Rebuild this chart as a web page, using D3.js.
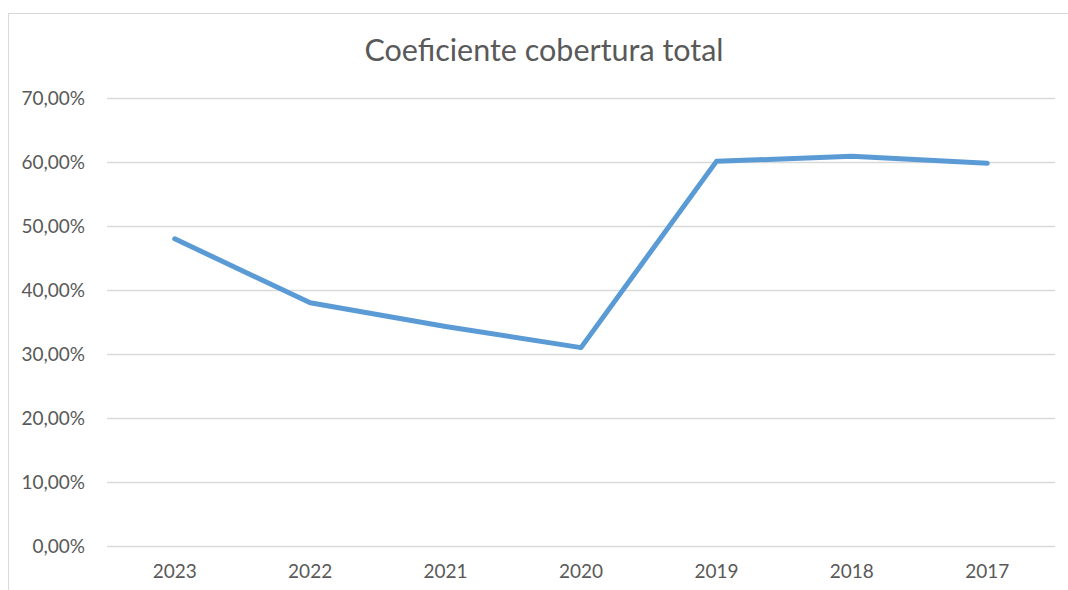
<!DOCTYPE html>
<html>
<head>
<meta charset="utf-8">
<script src="https://cdn.jsdelivr.net/npm/d3@7"></script>
<style>
  body { margin: 0; background: #fff; }
  text { font-family: Lato, "Open Sans", sans-serif; fill: #595959; }
</style>
</head>
<body>
<div id="chart"></div>
<script>
// values
var years = ["2023", "2022", "2021", "2020", "2019", "2018", "2017"];
var coverage = [0.480, 0.380, 0.343, 0.310, 0.601, 0.609, 0.598];
var yTicks = [0, 0.1, 0.2, 0.3, 0.4, 0.5, 0.6, 0.7];
var title = "Coeficiente cobertura total";

var width = 1068, height = 590;
var margin = {left: 107, right: 13, top: 98, bottom: 44};

var svg = d3.select("#chart").append("svg")
    .attr("width", width)
    .attr("height", height);

// chart frame (runs off the right and bottom edge)
svg.append("rect")
    .attr("x", 8.5)
    .attr("y", 13.5)
    .attr("width", width + 20)
    .attr("height", height + 20)
    .attr("fill", "white")
    .attr("stroke", "#d9d9d9")
    .attr("stroke-width", 1);

var x = d3.scaleBand()
    .domain(years)
    .range([margin.left, width - margin.right]);

var y = d3.scaleLinear()
    .domain([0, 0.7])
    .range([height - margin.bottom, margin.top]);

var fmt = function(v) { return (v * 100).toFixed(2).replace(".", ",") + "%"; };

// gridlines + y labels
var yAxis = svg.append("g")
    .attr("transform", "translate(" + margin.left + ",0)")
    .call(d3.axisLeft(y)
        .tickValues(yTicks)
        .tickFormat(fmt)
        .tickSize(-(width - margin.left - margin.right))
        .tickPadding(22));
yAxis.select(".domain").remove();
yAxis.selectAll("line").attr("stroke", "#d9d9d9").attr("stroke-width", 1.3);
yAxis.selectAll("text").attr("font-size", "19px").style("fill", "#595959");

// x labels
var xAxis = svg.append("g")
    .attr("transform", "translate(0," + (height - margin.bottom) + ")")
    .call(d3.axisBottom(x).tickSize(0).tickPadding(19));
xAxis.select(".domain").remove();
xAxis.selectAll("text").attr("font-size", "19px").style("fill", "#595959");

// the line
var line = d3.line()
    .x(function(d, i) { return x(years[i]) + x.bandwidth() / 2; })
    .y(function(d) { return y(d); });

svg.append("path")
    .datum(coverage)
    .attr("d", line)
    .attr("fill", "none")
    .attr("stroke", "#5b9bd5")
    .attr("stroke-width", 5)
    .attr("stroke-linejoin", "round")
    .attr("stroke-linecap", "round");

svg.append("text")
    .attr("x", 544)
    .attr("y", 61)
    .attr("text-anchor", "middle")
    .attr("font-size", "30.5px")
    .text(title);
</script>
</body>
</html>
